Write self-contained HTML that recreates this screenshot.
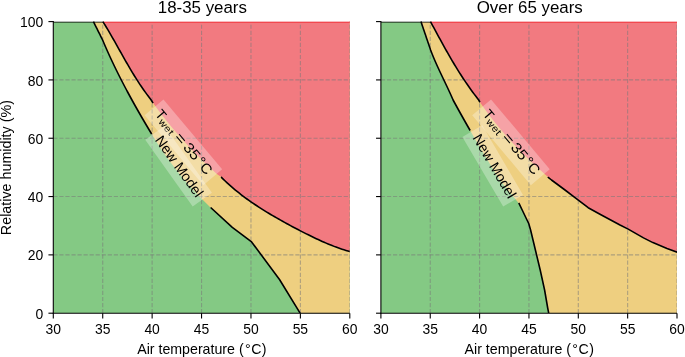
<!DOCTYPE html>
<html><head><meta charset="utf-8"><style>
html,body{margin:0;padding:0;background:#fff;width:685px;height:357px;overflow:hidden}
svg{display:block;font-family:"Liberation Sans",sans-serif;will-change:transform}
</style></head><body>
<svg width="685" height="357" viewBox="0 0 685 357">
<rect width="685" height="357" fill="#fff"/>
<g font-family="Liberation Sans, sans-serif" fill="#000">
<clipPath id="clipL"><rect x="53.3" y="21" width="296.50" height="292.20"/></clipPath>
<g clip-path="url(#clipL)">
<rect x="53.3" y="21.6" width="296.50" height="291.60" fill="#84c984"/>
<polygon points="93.40,18.60 93.40,21.60 94.32,23.44 95.24,25.28 96.16,27.12 97.08,28.96 98.00,30.80 98.92,32.64 99.84,34.48 100.76,36.32 101.68,38.16 102.60,40.00 103.44,42.00 104.30,44.00 105.16,46.00 106.04,48.00 106.92,50.00 107.82,52.00 108.72,54.00 109.63,56.00 110.56,58.00 111.49,60.00 112.43,62.00 113.38,64.00 114.34,66.00 115.31,68.00 116.29,70.00 117.28,72.00 118.27,74.00 119.28,76.00 120.29,78.00 121.31,80.00 122.34,82.00 123.38,84.00 124.42,86.00 125.48,88.00 126.54,90.00 127.61,92.00 128.69,94.00 129.77,96.00 130.86,98.00 131.96,100.00 133.07,102.00 134.18,104.00 135.30,106.00 136.43,108.00 137.56,110.00 138.70,112.00 139.85,114.00 141.00,116.00 142.16,118.00 143.33,120.00 144.50,122.00 145.68,124.00 146.86,126.00 148.05,128.00 149.24,130.00 150.44,132.00 151.65,134.00 152.86,136.00 154.08,138.00 155.30,140.00 156.58,142.00 157.88,144.00 159.19,146.00 160.52,148.00 161.87,150.00 163.24,152.00 164.62,154.00 166.02,156.00 167.44,158.00 168.88,160.00 170.34,162.00 171.83,164.00 173.33,166.00 174.86,168.00 176.41,170.00 177.99,172.00 179.59,174.00 181.22,176.00 182.87,178.00 184.55,180.00 186.25,182.00 187.99,184.00 189.75,186.00 191.54,188.00 193.36,190.00 195.21,192.00 197.10,194.00 199.01,196.00 200.96,198.00 202.94,200.00 210.00,206.90 232.30,227.40 251.60,241.90 279.50,279.50 300.10,313.20 300.10,316.20 352.80,316.20 352.80,18.60" fill="#eecf80"/>
<polygon points="102.89,18.60 102.89,21.60 104.11,23.56 105.31,25.52 106.50,27.48 107.67,29.44 108.83,31.40 109.98,33.36 111.11,35.32 112.24,37.28 113.36,39.24 114.47,41.20 115.58,43.16 116.68,45.12 117.78,47.08 118.88,49.04 119.97,51.00 121.07,52.96 122.17,54.92 123.28,56.88 124.39,58.84 125.50,60.80 126.63,62.76 127.76,64.72 128.90,66.68 130.06,68.64 131.22,70.60 132.41,72.56 133.60,74.52 134.82,76.48 136.05,78.44 137.30,80.40 138.57,82.36 139.86,84.32 141.18,86.28 142.52,88.24 143.89,90.20 145.28,92.16 146.71,94.12 148.16,96.08 149.65,98.04 151.16,100.00 152.39,102.00 153.80,104.00 155.24,106.00 156.69,108.00 158.17,110.00 159.67,112.00 161.19,114.00 162.73,116.00 164.29,118.00 165.88,120.00 167.49,122.00 169.12,124.00 170.77,126.00 172.44,128.00 174.13,130.00 175.84,132.00 177.58,134.00 179.34,136.00 181.12,138.00 182.92,140.00 184.74,142.00 186.59,144.00 188.45,146.00 190.34,148.00 192.25,150.00 194.18,152.00 196.13,154.00 198.11,156.00 200.10,158.00 202.12,160.00 204.16,162.00 206.22,164.00 208.30,166.00 210.40,168.00 212.53,170.00 214.68,172.00 216.85,174.00 221.20,177.10 223.18,179.07 225.16,180.98 227.14,182.84 229.12,184.65 231.10,186.40 233.08,188.12 235.06,189.78 237.04,191.41 239.02,192.99 241.00,194.54 242.98,196.05 244.96,197.53 246.94,198.98 248.92,200.39 250.90,201.78 252.88,203.14 254.86,204.48 256.84,205.79 258.82,207.09 260.80,208.36 262.78,209.61 264.76,210.84 266.74,212.06 268.72,213.25 270.70,214.44 272.68,215.61 274.66,216.77 276.64,217.91 278.62,219.04 280.60,220.16 282.58,221.27 284.56,222.37 286.54,223.46 288.52,224.55 290.50,225.62 292.48,226.68 294.46,227.73 296.44,228.78 298.42,229.81 300.40,230.84 302.38,231.85 304.36,232.86 306.34,233.86 308.32,234.84 310.30,235.82 312.28,236.78 314.26,237.73 316.24,238.67 318.22,239.59 320.20,240.50 322.18,241.40 324.16,242.27 326.14,243.13 328.12,243.97 330.10,244.80 332.08,245.59 334.06,246.37 336.04,247.12 338.02,247.85 340.00,248.55 341.98,249.22 343.96,249.85 345.94,250.46 347.92,251.03 349.90,251.56 352.80,251.56 352.80,18.60" fill="#f27a80"/>
<g stroke="rgba(120,120,120,0.55)" stroke-width="1.1" stroke-dasharray="4.2 1.85"><line x1="102.72" y1="313.2" x2="102.72" y2="21.6"/><line x1="152.13" y1="313.2" x2="152.13" y2="21.6"/><line x1="201.55" y1="313.2" x2="201.55" y2="21.6"/><line x1="250.97" y1="313.2" x2="250.97" y2="21.6"/><line x1="300.38" y1="313.2" x2="300.38" y2="21.6"/><line x1="349.80" y1="313.2" x2="349.80" y2="21.6"/><line x1="53.3" y1="254.88" x2="349.8" y2="254.88"/><line x1="53.3" y1="196.56" x2="349.8" y2="196.56"/><line x1="53.3" y1="138.24" x2="349.8" y2="138.24"/><line x1="53.3" y1="79.92" x2="349.8" y2="79.92"/></g>
<rect x="53.3" y="21" width="49.59" height="1" fill="#b9bcb9"/>
<rect x="53.3" y="22" width="49.59" height="1" fill="#000" fill-opacity="0.52"/>
<rect x="102.89" y="21" width="246.91" height="1" fill="#f8bcc0"/>
<rect x="102.89" y="22" width="246.91" height="1" fill="#f2484f"/>
<polyline points="93.40,21.60 93.40,21.60 94.32,23.44 95.24,25.28 96.16,27.12 97.08,28.96 98.00,30.80 98.92,32.64 99.84,34.48 100.76,36.32 101.68,38.16 102.60,40.00 103.44,42.00 104.30,44.00 105.16,46.00 106.04,48.00 106.92,50.00 107.82,52.00 108.72,54.00 109.63,56.00 110.56,58.00 111.49,60.00 112.43,62.00 113.38,64.00 114.34,66.00 115.31,68.00 116.29,70.00 117.28,72.00 118.27,74.00 119.28,76.00 120.29,78.00 121.31,80.00 122.34,82.00 123.38,84.00 124.42,86.00 125.48,88.00 126.54,90.00 127.61,92.00 128.69,94.00 129.77,96.00 130.86,98.00 131.96,100.00 133.07,102.00 134.18,104.00 135.30,106.00 136.43,108.00 137.56,110.00 138.70,112.00 139.85,114.00 141.00,116.00 142.16,118.00 143.33,120.00 144.50,122.00 145.68,124.00 146.86,126.00 148.05,128.00 149.24,130.00 150.44,132.00 151.65,134.00" fill="none" stroke="#000" stroke-width="1.6" stroke-linejoin="round"/>
<polyline points="210.65,207.50 232.30,227.40 251.60,241.90 279.50,279.50 300.10,313.20 300.10,313.20" fill="none" stroke="#000" stroke-width="1.6" stroke-linejoin="round"/>
<polyline points="102.89,21.60 102.89,21.60 104.11,23.56 105.31,25.52 106.50,27.48 107.67,29.44 108.83,31.40 109.98,33.36 111.11,35.32 112.24,37.28 113.36,39.24 114.47,41.20 115.58,43.16 116.68,45.12 117.78,47.08 118.88,49.04 119.97,51.00 121.07,52.96 122.17,54.92 123.28,56.88 124.39,58.84 125.50,60.80 126.63,62.76 127.76,64.72 128.90,66.68 130.06,68.64 131.22,70.60 132.41,72.56 133.60,74.52 134.82,76.48 136.05,78.44 137.30,80.40 138.57,82.36 139.86,84.32 141.18,86.28 142.52,88.24 143.89,90.20 145.28,92.16 146.71,94.12 148.16,96.08 149.65,98.04 151.16,100.00 152.39,102.00 153.10,103.00" fill="none" stroke="#000" stroke-width="1.6" stroke-linejoin="round"/>
<polyline points="221.06,177.00 221.20,177.10 223.18,179.07 225.16,180.98 227.14,182.84 229.12,184.65 231.10,186.40 233.08,188.12 235.06,189.78 237.04,191.41 239.02,192.99 241.00,194.54 242.98,196.05 244.96,197.53 246.94,198.98 248.92,200.39 250.90,201.78 252.88,203.14 254.86,204.48 256.84,205.79 258.82,207.09 260.80,208.36 262.78,209.61 264.76,210.84 266.74,212.06 268.72,213.25 270.70,214.44 272.68,215.61 274.66,216.77 276.64,217.91 278.62,219.04 280.60,220.16 282.58,221.27 284.56,222.37 286.54,223.46 288.52,224.55 290.50,225.62 292.48,226.68 294.46,227.73 296.44,228.78 298.42,229.81 300.40,230.84 302.38,231.85 304.36,232.86 306.34,233.86 308.32,234.84 310.30,235.82 312.28,236.78 314.26,237.73 316.24,238.67 318.22,239.59 320.20,240.50 322.18,241.40 324.16,242.27 326.14,243.13 328.12,243.97 330.10,244.80 332.08,245.59 334.06,246.37 336.04,247.12 338.02,247.85 340.00,248.55 341.98,249.22 343.96,249.85 345.94,250.46 347.92,251.03 349.90,251.56 349.90,251.56" fill="none" stroke="#000" stroke-width="1.6" stroke-linejoin="round"/>
<g transform="translate(183.37,142.26) rotate(50.0)">
<rect x="-45.65" y="-12.30" width="91.3" height="24.6" fill="#fff" fill-opacity="0.3"/>
<text x="-35.50" y="4.20" text-anchor="middle" font-size="13.9">T</text><text transform="translate(-27.80,6.60) scale(1.1,1)" text-anchor="middle" font-size="9.73">w</text><text transform="translate(-20.40,6.60) scale(1.1,1)" text-anchor="middle" font-size="9.73">e</text><text transform="translate(-15.40,6.60) scale(1.2,1)" text-anchor="middle" font-size="9.73">t</text><text transform="translate(-4.60,4.20) scale(1.3,1)" text-anchor="middle" font-size="13.9">=</text><text transform="translate(8.00,4.20) scale(1.12,1)" text-anchor="middle" font-size="14.4">3</text><text transform="translate(17.00,4.20) scale(1.12,1)" text-anchor="middle" font-size="14.4">5</text><text transform="translate(26.00,3.60) scale(1.1,1)" text-anchor="middle" font-size="14.2">°</text><text transform="translate(34.80,4.20) scale(1.05,1)" text-anchor="middle" font-size="14.2">C</text>
</g>
<g transform="translate(178.56,166.25) rotate(54.5)">
<rect x="-40.90" y="-11.80" width="81.8" height="23.6" fill="#fff" fill-opacity="0.3"/>
<text x="0.50" y="4.40" text-anchor="middle" font-size="14.3">New Model</text>
</g>
</g>
<g stroke="#000" stroke-width="1.1" fill="none">
<line x1="53.3" y1="21.1" x2="53.3" y2="313.75"/>
<line x1="52.75" y1="313.2" x2="349.8" y2="313.2"/>
<line x1="53.30" y1="313.2" x2="53.30" y2="318.50"/>
<line x1="102.72" y1="313.2" x2="102.72" y2="318.50"/>
<line x1="152.13" y1="313.2" x2="152.13" y2="318.50"/>
<line x1="201.55" y1="313.2" x2="201.55" y2="318.50"/>
<line x1="250.97" y1="313.2" x2="250.97" y2="318.50"/>
<line x1="300.38" y1="313.2" x2="300.38" y2="318.50"/>
<line x1="349.80" y1="313.2" x2="349.80" y2="318.50"/>
<line x1="53.3" y1="313.20" x2="48.44" y2="313.20"/>
<line x1="53.3" y1="254.88" x2="48.44" y2="254.88"/>
<line x1="53.3" y1="196.56" x2="48.44" y2="196.56"/>
<line x1="53.3" y1="138.24" x2="48.44" y2="138.24"/>
<line x1="53.3" y1="79.92" x2="48.44" y2="79.92"/>
<line x1="53.3" y1="21.60" x2="48.44" y2="21.60"/>
</g>
<g font-size="13.9"><text x="53.30" y="334" text-anchor="middle">30</text><text x="102.72" y="334" text-anchor="middle">35</text><text x="152.13" y="334" text-anchor="middle">40</text><text x="201.55" y="334" text-anchor="middle">45</text><text x="250.97" y="334" text-anchor="middle">50</text><text x="300.38" y="334" text-anchor="middle">55</text><text x="349.80" y="334" text-anchor="middle">60</text><text x="43.30" y="318.80" text-anchor="end">0</text><text x="43.30" y="260.48" text-anchor="end">20</text><text x="43.30" y="202.16" text-anchor="end">40</text><text x="43.30" y="143.84" text-anchor="end">60</text><text x="43.30" y="85.52" text-anchor="end">80</text><text x="43.30" y="27.20" text-anchor="end">100</text></g>
<text x="201.85" y="353.5" text-anchor="middle" font-size="14.2">Air temperature (<tspan dx="1.3">°</tspan><tspan dx="0.5">C</tspan><tspan dx="0.4">)</tspan></text>
<text x="202.35" y="12.8" text-anchor="middle" font-size="16.9">18-35 years</text>
<clipPath id="clipR"><rect x="380.9" y="21" width="296.10" height="292.20"/></clipPath>
<g clip-path="url(#clipR)">
<rect x="380.9" y="21.6" width="296.10" height="291.60" fill="#84c984"/>
<polygon points="421.00,18.60 421.00,21.60 421.62,23.49 422.25,25.39 422.89,27.28 423.52,29.17 424.16,31.07 424.80,32.96 425.45,34.85 426.09,36.75 426.74,38.64 427.38,40.53 428.03,42.43 428.67,44.32 429.32,46.21 429.96,48.11 430.60,50.00 431.36,52.00 432.14,54.00 432.95,56.00 433.78,58.00 434.63,60.00 435.50,62.00 436.39,64.00 437.29,66.00 438.21,68.00 439.13,70.00 440.07,72.00 441.02,74.00 441.96,76.00 442.92,78.00 443.87,80.00 444.83,82.00 445.78,84.00 446.73,86.00 447.67,88.00 448.61,90.00 449.53,92.00 450.45,94.00 451.35,96.00 452.23,98.00 453.10,100.00 454.18,102.00 455.27,104.00 456.37,106.00 457.47,108.00 458.57,110.00 459.68,112.00 460.80,114.00 461.92,116.00 463.04,118.00 464.17,120.00 465.30,122.00 466.43,124.00 467.57,126.00 468.72,128.00 469.87,130.00 471.02,132.00 472.17,134.00 473.33,136.00 474.50,138.00 475.66,140.00 476.83,142.00 478.01,144.00 479.18,146.00 480.36,148.00 481.55,150.00 482.73,152.00 483.92,154.00 485.11,156.00 486.31,158.00 487.50,160.00 488.70,162.00 489.90,164.00 491.11,166.00 492.31,168.00 493.52,170.00 494.73,172.00 495.94,174.00 497.16,176.00 498.38,178.00 499.59,180.00 519.00,203.40 522.20,210.00 527.00,220.00 528.80,223.70 530.60,230.00 533.00,240.00 535.40,250.00 540.20,270.00 544.60,290.00 547.70,308.00 548.70,313.20 548.70,316.20 680.00,316.20 680.00,18.60" fill="#eecf80"/>
<polygon points="430.47,18.60 430.47,21.60 431.54,23.56 432.60,25.52 433.66,27.48 434.72,29.44 435.78,31.40 436.84,33.36 437.90,35.32 438.97,37.28 440.04,39.24 441.11,41.20 442.19,43.16 443.27,45.12 444.36,47.08 445.46,49.04 446.56,51.00 447.67,52.96 448.79,54.92 449.92,56.88 451.06,58.84 452.21,60.80 453.38,62.76 454.55,64.72 455.74,66.68 456.95,68.64 458.16,70.60 459.40,72.56 460.65,74.52 461.92,76.48 463.20,78.44 464.50,80.40 465.83,82.36 467.17,84.32 468.53,86.28 469.92,88.24 471.32,90.20 472.75,92.16 474.20,94.12 475.68,96.08 477.18,98.04 478.71,100.00 479.83,102.00 481.19,104.00 482.57,106.00 483.98,108.00 485.42,110.00 486.88,112.00 488.36,114.00 489.87,116.00 491.40,118.00 492.96,120.00 494.55,122.00 496.16,124.00 497.80,126.00 499.46,128.00 501.14,130.00 502.86,132.00 504.59,134.00 506.36,136.00 508.14,138.00 509.96,140.00 511.79,142.00 513.66,144.00 515.55,146.00 517.46,148.00 519.40,150.00 521.36,152.00 523.35,154.00 525.37,156.00 527.41,158.00 529.48,160.00 531.57,162.00 533.68,164.00 535.82,166.00 537.99,168.00 540.18,170.00 542.40,172.00 544.64,174.00 548.20,177.30 551.50,180.00 565.00,190.00 575.00,197.60 588.20,207.70 600.00,214.20 620.00,225.00 628.20,229.10 643.50,237.90 652.90,242.60 667.00,248.50 677.20,252.20 680.00,252.20 680.00,18.60" fill="#f27a80"/>
<g stroke="rgba(120,120,120,0.55)" stroke-width="1.1" stroke-dasharray="4.2 1.85"><line x1="430.25" y1="313.2" x2="430.25" y2="21.6"/><line x1="479.60" y1="313.2" x2="479.60" y2="21.6"/><line x1="528.95" y1="313.2" x2="528.95" y2="21.6"/><line x1="578.30" y1="313.2" x2="578.30" y2="21.6"/><line x1="627.65" y1="313.2" x2="627.65" y2="21.6"/><line x1="677.00" y1="313.2" x2="677.00" y2="21.6"/><line x1="380.9" y1="254.88" x2="677.0" y2="254.88"/><line x1="380.9" y1="196.56" x2="677.0" y2="196.56"/><line x1="380.9" y1="138.24" x2="677.0" y2="138.24"/><line x1="380.9" y1="79.92" x2="677.0" y2="79.92"/></g>
<rect x="380.9" y="21" width="49.57" height="1" fill="#b9bcb9"/>
<rect x="380.9" y="22" width="49.57" height="1" fill="#000" fill-opacity="0.52"/>
<rect x="430.47" y="21" width="246.53" height="1" fill="#f8bcc0"/>
<rect x="430.47" y="22" width="246.53" height="1" fill="#f2484f"/>
<polyline points="421.00,21.60 421.00,21.60 421.62,23.49 422.25,25.39 422.89,27.28 423.52,29.17 424.16,31.07 424.80,32.96 425.45,34.85 426.09,36.75 426.74,38.64 427.38,40.53 428.03,42.43 428.67,44.32 429.32,46.21 429.96,48.11 430.60,50.00 431.36,52.00 432.14,54.00 432.95,56.00 433.78,58.00 434.63,60.00 435.50,62.00 436.39,64.00 437.29,66.00 438.21,68.00 439.13,70.00 440.07,72.00 441.02,74.00 441.96,76.00 442.92,78.00 443.87,80.00 444.83,82.00 445.78,84.00 446.73,86.00 447.67,88.00 448.61,90.00 449.53,92.00 450.45,94.00 451.35,96.00 452.23,98.00 453.10,100.00 454.18,102.00 455.27,104.00 456.37,106.00 457.47,108.00 458.57,110.00 459.68,112.00 460.80,114.00 461.92,116.00 463.04,118.00 464.17,120.00 465.30,122.00 466.43,124.00 467.57,126.00 468.72,128.00 469.87,130.00 470.16,130.50" fill="none" stroke="#000" stroke-width="1.6" stroke-linejoin="round"/>
<polyline points="518.67,203.00 519.00,203.40 522.20,210.00 527.00,220.00 528.80,223.70 530.60,230.00 533.00,240.00 535.40,250.00 540.20,270.00 544.60,290.00 547.70,308.00 548.70,313.20 548.70,313.20" fill="none" stroke="#000" stroke-width="1.6" stroke-linejoin="round"/>
<polyline points="430.47,21.60 430.47,21.60 431.54,23.56 432.60,25.52 433.66,27.48 434.72,29.44 435.78,31.40 436.84,33.36 437.90,35.32 438.97,37.28 440.04,39.24 441.11,41.20 442.19,43.16 443.27,45.12 444.36,47.08 445.46,49.04 446.56,51.00 447.67,52.96 448.79,54.92 449.92,56.88 451.06,58.84 452.21,60.80 453.38,62.76 454.55,64.72 455.74,66.68 456.95,68.64 458.16,70.60 459.40,72.56 460.65,74.52 461.92,76.48 463.20,78.44 464.50,80.40 465.83,82.36 467.17,84.32 468.53,86.28 469.92,88.24 471.32,90.20 472.75,92.16 474.20,94.12 475.68,96.08 477.18,98.04 478.71,100.00 479.83,102.00 479.97,102.20" fill="none" stroke="#000" stroke-width="1.6" stroke-linejoin="round"/>
<polyline points="547.88,177.00 548.20,177.30 551.50,180.00 565.00,190.00 575.00,197.60 588.20,207.70 600.00,214.20 620.00,225.00 628.20,229.10 643.50,237.90 652.90,242.60 667.00,248.50 677.20,252.20 677.20,252.20" fill="none" stroke="#000" stroke-width="1.6" stroke-linejoin="round"/>
<g transform="translate(510.97,142.26) rotate(50.0)">
<rect x="-45.65" y="-12.30" width="91.3" height="24.6" fill="#fff" fill-opacity="0.3"/>
<text x="-35.50" y="4.20" text-anchor="middle" font-size="13.9">T</text><text transform="translate(-27.80,6.60) scale(1.1,1)" text-anchor="middle" font-size="9.73">w</text><text transform="translate(-20.40,6.60) scale(1.1,1)" text-anchor="middle" font-size="9.73">e</text><text transform="translate(-15.40,6.60) scale(1.2,1)" text-anchor="middle" font-size="9.73">t</text><text transform="translate(-4.60,4.20) scale(1.3,1)" text-anchor="middle" font-size="13.9">=</text><text transform="translate(8.00,4.20) scale(1.12,1)" text-anchor="middle" font-size="14.4">3</text><text transform="translate(17.00,4.20) scale(1.12,1)" text-anchor="middle" font-size="14.4">5</text><text transform="translate(26.00,3.60) scale(1.1,1)" text-anchor="middle" font-size="14.2">°</text><text transform="translate(34.80,4.20) scale(1.05,1)" text-anchor="middle" font-size="14.2">C</text>
</g>
<g transform="translate(492.71,165.94) rotate(59.6)">
<rect x="-40.30" y="-11.50" width="80.6" height="23.0" fill="#fff" fill-opacity="0.3"/>
<text x="1.20" y="3.40" text-anchor="middle" font-size="14.3">New Model</text>
</g>
</g>
<g stroke="#000" stroke-width="1.1" fill="none">
<line x1="380.9" y1="21.1" x2="380.9" y2="313.75"/>
<line x1="380.34999999999997" y1="313.2" x2="677.0" y2="313.2"/>
<line x1="380.90" y1="313.2" x2="380.90" y2="318.50"/>
<line x1="430.25" y1="313.2" x2="430.25" y2="318.50"/>
<line x1="479.60" y1="313.2" x2="479.60" y2="318.50"/>
<line x1="528.95" y1="313.2" x2="528.95" y2="318.50"/>
<line x1="578.30" y1="313.2" x2="578.30" y2="318.50"/>
<line x1="627.65" y1="313.2" x2="627.65" y2="318.50"/>
<line x1="677.00" y1="313.2" x2="677.00" y2="318.50"/>
<line x1="380.9" y1="313.20" x2="376.04" y2="313.20"/>
<line x1="380.9" y1="254.88" x2="376.04" y2="254.88"/>
<line x1="380.9" y1="196.56" x2="376.04" y2="196.56"/>
<line x1="380.9" y1="138.24" x2="376.04" y2="138.24"/>
<line x1="380.9" y1="79.92" x2="376.04" y2="79.92"/>
<line x1="380.9" y1="21.60" x2="376.04" y2="21.60"/>
</g>
<g font-size="13.9"><text x="380.90" y="334" text-anchor="middle">30</text><text x="430.25" y="334" text-anchor="middle">35</text><text x="479.60" y="334" text-anchor="middle">40</text><text x="528.95" y="334" text-anchor="middle">45</text><text x="578.30" y="334" text-anchor="middle">50</text><text x="627.65" y="334" text-anchor="middle">55</text><text x="677.00" y="334" text-anchor="middle">60</text></g>
<text x="529.25" y="353.5" text-anchor="middle" font-size="14.2">Air temperature (<tspan dx="1.3">°</tspan><tspan dx="0.5">C</tspan><tspan dx="0.4">)</tspan></text>
<text x="529.75" y="12.8" text-anchor="middle" font-size="16.9">Over 65 years</text>
<text transform="translate(11.0,167.6) rotate(-90)" text-anchor="middle" font-size="14.3">Relative humidity (%)</text>
</g></svg>
</body></html>
